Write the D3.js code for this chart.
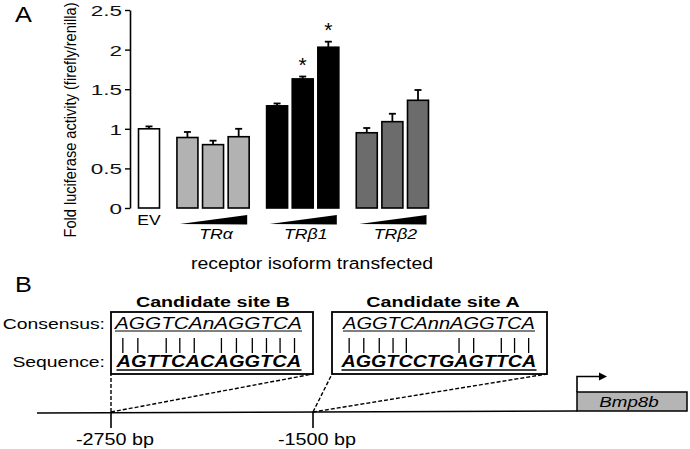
<!DOCTYPE html>
<html><head><meta charset="utf-8">
<script src="https://cdn.jsdelivr.net/npm/d3@7"></script>
<style>
body{margin:0;background:#fff;}
svg{display:block;font-family:"Liberation Sans",Arial,Helvetica,sans-serif;}
</style></head>
<body><svg id="c" width="690" height="449"></svg>
<script>
// ---- data ----
const groups = ["EV", "TRα", "TRβ1", "TRβ2"];
const evValues = [1.00], evErrors = [0.03];
const traValues = [0.89, 0.80, 0.90], traErrors = [0.07, 0.05, 0.10];
const trb1Values = [1.29, 1.63, 2.03], trb1Errors = [0.03, 0.03, 0.07];
const trb2Values = [0.95, 1.09, 1.36], trb2Errors = [0.06, 0.10, 0.13];
const trb1Significant = [false, true, true];
const yTicks = [0, 0.5, 1, 1.5, 2, 2.5];
const yTickLabels = ["0", "0.5", "1", "1.5", "2", "2.5"];
const yLabel = "Fold luciferase activity (firefly/renilla)";
const xLabel = "receptor isoform transfected";
// panel B
const siteB = {title: "Candidate site B", bp: -2750, consensus: "AGGTCAnAGGTCA", sequence: "AGTTCACAGGTCA"};
const siteA = {title: "Candidate site A", bp: -1500, consensus: "AGGTCAnnAGGTCA", sequence: "AGGTCCTGAGTTCA"};
const bpTicks = [-2750, -1500];
const geneName = "Bmp8b";

// ---- styles ----
const groupFill = {"EV": "#ffffff", "TRα": "#b2b2b2", "TRβ1": "#000000", "TRβ2": "#6c6c6c"};

const svg = d3.select("#c");

function stretch(sel, x, y, sx, extra) {
  sel.attr("x", 0).attr("y", 0)
     .attr("transform", `translate(${x},${y}) ${extra || ""} scale(${sx},1)`);
  return sel;
}

// ---- panel A ----
const series = [
  {g: "EV", v: evValues, e: evErrors, s: [false]},
  {g: "TRα", v: traValues, e: traErrors, s: [false, false, false]},
  {g: "TRβ1", v: trb1Values, e: trb1Errors, s: trb1Significant},
  {g: "TRβ2", v: trb2Values, e: trb2Errors, s: [false, false, false]}
];
const rows = [];
let k = 0;
series.forEach((sr, gi) => sr.v.forEach((v, bi) => {
  rows.push({group: sr.g, gi, bi, value: v, err: sr.e[bi], sig: sr.s[bi], slot: k + gi * 0.5});
  k++;
}));

const x = d3.scaleLinear().domain([0, 10.5]).range([149, 418]);
const y = d3.scaleLinear().domain([0, 2.5]).range([208, 10]);
const barW = 21;

const ax = svg.append("g").attr("transform", "translate(130,0)")
  .call(d3.axisLeft(y).tickValues(yTicks).tickSize(5).tickSizeOuter(0)
        .tickFormat((d, i) => yTickLabels[i]));
ax.select(".domain").attr("stroke-width", 1.6);
ax.selectAll(".tick line").attr("stroke-width", 1.4);
ax.selectAll(".tick text").each(function() {
  const t = d3.select(this);
  t.attr("dy", null).attr("font-size", 15).attr("fill", "#111")
   .attr("font-family", "Liberation Sans, Arial, sans-serif");
  stretch(t, -8, 5.5, 1.5);
});

// error bars
const eb = svg.append("g").attr("stroke", "#000").attr("stroke-width", 1.8);
eb.selectAll("line.v").data(rows).join("line")
  .attr("x1", d => x(d.slot)).attr("x2", d => x(d.slot))
  .attr("y1", d => y(d.value)).attr("y2", d => y(d.value + d.err));
eb.selectAll("line.c").data(rows).join("line")
  .attr("x1", d => x(d.slot) - 3.5).attr("x2", d => x(d.slot) + 3.5)
  .attr("y1", d => y(d.value + d.err)).attr("y2", d => y(d.value + d.err));

svg.append("g").selectAll("rect").data(rows).join("rect")
  .attr("x", d => x(d.slot) - barW / 2).attr("width", barW)
  .attr("y", d => y(d.value)).attr("height", d => y(0) - y(d.value))
  .attr("fill", d => groupFill[d.group]).attr("stroke", "#000").attr("stroke-width", 1.6);

// asterisks
svg.append("g").selectAll("text").data(rows.filter(d => d.sig)).join("text")
  .attr("x", d => x(d.slot)).attr("y", d => y(d.value + d.err) - 5)
  .attr("text-anchor", "middle").attr("font-size", 21).text("*");

// EV label
stretch(svg.append("text").attr("text-anchor", "middle").attr("font-size", 14).text("EV"),
  x(rows[0].slot), 225, 1.25);

// wedges and group labels
groups.slice(1).forEach(g => {
  const rs = rows.filter(r => r.group === g);
  const l = x(rs[0].slot) - barW / 2 + 3, r = x(rs[rs.length - 1].slot) + barW / 2 - 2;
  svg.append("path").attr("d", `M${l},224L${r},215L${r},224.5Z`).attr("fill", "#000");
  const mid = x(rs[1].slot) + 3;
  stretch(svg.append("text").attr("text-anchor", "middle").attr("font-size", 14.5)
    .attr("font-style", "italic").text(g), mid, 238.5, 1.22);
});

stretch(svg.append("text").attr("text-anchor", "middle").attr("font-size", 16.5).text(xLabel),
  312, 269, 1.18);

svg.append("text").attr("transform", "translate(76,120) rotate(-90) scale(1,1.1)")
  .attr("text-anchor", "middle").attr("font-size", 14.6).text(yLabel);

stretch(svg.append("text").attr("font-size", 22).text("A"), 15, 22, 1.15);
stretch(svg.append("text").attr("font-size", 22).text("B"), 15, 292, 1.15);

// ---- panel B ----
const bp = d3.scaleLinear().domain([-2750, -1500]).range([111, 313]);
const lineY = 412;
const geneX0 = 577, geneX1 = 687;
svg.append("line").attr("x1", 37).attr("x2", geneX0).attr("y1", lineY + 1).attr("y2", lineY - 1)
  .attr("stroke", "#000").attr("stroke-width", 1.6);
bpTicks.forEach(b => {
  svg.append("line").attr("x1", bp(b)).attr("x2", bp(b)).attr("y1", lineY).attr("y2", 428)
    .attr("stroke", "#000").attr("stroke-width", 1.6);
  stretch(svg.append("text").attr("text-anchor", "middle").attr("font-size", 16.5)
    .text(`${b} bp`), bp(b) + 4, 444.5, 1.2);
});

// gene box + arrow
svg.append("rect").attr("x", geneX0).attr("y", 392).attr("width", geneX1 - geneX0).attr("height", 19)
  .attr("fill", "#b5b5b5").attr("stroke", "#000").attr("stroke-width", 1.5);
stretch(svg.append("text").attr("text-anchor", "middle").attr("font-size", 15)
  .attr("font-style", "italic").text(geneName), 629, 406.5, 1.25);
svg.append("path").attr("d", `M${geneX0},392V376.5H603`).attr("fill", "none")
  .attr("stroke", "#000").attr("stroke-width", 1.6);
svg.append("path").attr("d", "M599,372.5L607,376.5L599,380.5Z").attr("fill", "#000");

// label column
stretch(svg.append("text").attr("text-anchor", "end").attr("font-size", 15.5).text("Consensus:"), 105, 328.5, 1.25);
stretch(svg.append("text").attr("text-anchor", "end").attr("font-size", 15.5).text("Sequence:"), 105, 366.5, 1.25);

const boxes = [
  {site: siteB, x0: 111, x1: 313, cx: 213, tx0: 115, tw: 187, sx0: 116.5, sw: 185},
  {site: siteA, x0: 332, x1: 547, cx: 443, tx0: 343, tw: 192, sx0: 341.5, sw: 195}
];
const boxY0 = 312, boxY1 = 374;
boxes.forEach(b => {
  const s = b.site;
  // dashed connectors
  const dash = svg.append("g").attr("stroke", "#000").attr("stroke-width", 1.4)
    .attr("stroke-dasharray", "4,2").attr("fill", "none");
  dash.append("line").attr("x1", bp(s.bp)).attr("y1", lineY).attr("x2", b.x0).attr("y2", boxY1);
  dash.append("line").attr("x1", bp(s.bp)).attr("y1", lineY).attr("x2", b.x1).attr("y2", boxY1);
  svg.append("rect").attr("x", b.x0).attr("y", boxY0).attr("width", b.x1 - b.x0).attr("height", boxY1 - boxY0)
    .attr("fill", "#fff").attr("stroke", "#000").attr("stroke-width", 1.8);
  stretch(svg.append("text").attr("text-anchor", "middle").attr("font-size", 15.5)
    .attr("font-weight", "bold").text(s.title), b.cx, 306.5, 1.27);

  const ct = svg.append("text").attr("font-size", 16).attr("font-style", "italic").text(s.consensus);
  const cw = ct.node().getComputedTextLength();
  const csx = b.tw / cw;
  stretch(ct, b.tx0, 328.5, csx);
  const st = svg.append("text").attr("font-size", 16).attr("font-style", "italic")
    .attr("font-weight", "bold").text(s.sequence);
  const sw = st.node().getComputedTextLength();
  const ssx = b.sw / sw;
  stretch(st, b.sx0, 367, ssx);
  // underlines
  svg.append("line").attr("x1", b.tx0).attr("x2", b.tx0 + b.tw).attr("y1", 331).attr("y2", 331)
    .attr("stroke", "#000").attr("stroke-width", 1);
  svg.append("line").attr("x1", b.sx0).attr("x2", b.sx0 + b.sw).attr("y1", 370).attr("y2", 370)
    .attr("stroke", "#000").attr("stroke-width", 1.6);
  // match bars
  const matches = [];
  for (let i = 0; i < s.consensus.length; i++) {
    if (s.consensus[i] === s.sequence[i]) {
      const c1 = ct.node().getExtentOfChar(i), c2 = st.node().getExtentOfChar(i);
      const xc = (b.tx0 + csx * (c1.x + c1.width / 2) + b.sx0 + ssx * (c2.x + c2.width / 2)) / 2;
      matches.push(xc);
    }
  }
  svg.append("g").selectAll("line").data(matches).join("line")
    .attr("x1", d => d).attr("x2", d => d).attr("y1", 338).attr("y2", 353)
    .attr("stroke", "#000").attr("stroke-width", 1.3);
});
</script></body></html>
